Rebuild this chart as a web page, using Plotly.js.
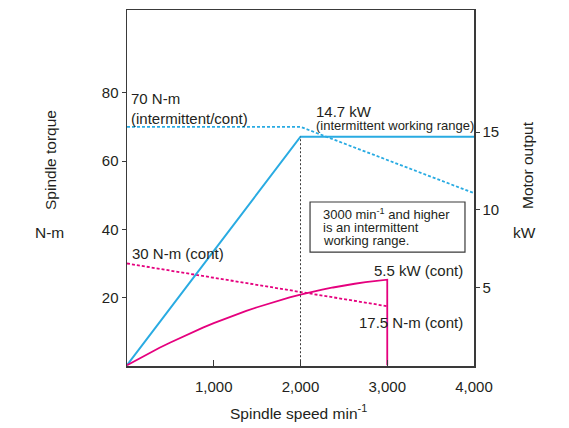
<!DOCTYPE html>
<html>
<head>
<meta charset="utf-8">
<script src="https://cdn.plot.ly/plotly-3.0.1.min.js"></script>
<style>html,body{margin:0;padding:0;background:#fff;}#chart{width:569px;height:428px;}</style>
</head>
<body>
<div id="chart"></div>
<script>
// Speeds (min^-1)
var intSpeed = [0, 2000, 4000];
var intPower = [0, 14.7, 14.7];        // kW, intermittent output
var intTorque = [70, 70, 50.6];        // N-m, intermittent torque
var contTorqueSpeed = [0, 3000];
var contTorque = [30, 17.5];           // N-m, continuous torque
var contPowerSpeed = [0, 125, 250, 375, 500, 625, 750, 875, 1000, 1125, 1250, 1375, 1500, 1625, 1750, 1875,
                      2000, 2125, 2250, 2375, 2500, 2625, 2750, 2875, 3000, 3000];
var contPower = [0, 0.39, 0.76, 1.12, 1.46, 1.79, 2.11, 2.42, 2.71, 2.98, 3.25, 3.50, 3.73, 3.95, 4.16, 4.36,
                 4.54, 4.71, 4.86, 5.00, 5.13, 5.24, 5.34, 5.43, 5.5, 0]; // kW, continuous output
var baseSpeed = [2000, 2000];
var baseLine = [0, 14.7];
var xTickVals = [1000, 2000, 3000, 4000];
var xTickText = ["1,000", "2,000", "3,000", "4,000"];
var yTickVals = [20, 40, 60, 80];
var y2TickVals = [5, 10, 15];

var BLUE = "#29abe2", MAG = "#e5007e", TXT = "#231f20", AX = "#3a3a3a";
var FONT = "Liberation Sans, Arial, sans-serif";

var traces = [
  {x: intSpeed, y: intPower, yaxis: "y2", mode: "lines", line: {color: BLUE, width: 2}},
  {x: intSpeed, y: intTorque, yaxis: "y", mode: "lines", line: {color: BLUE, width: 1.8, dash: "3px,2px"}},
  {x: contTorqueSpeed, y: contTorque, yaxis: "y", mode: "lines", line: {color: MAG, width: 1.8, dash: "3px,2px"}},
  {x: contPowerSpeed, y: contPower, yaxis: "y2", mode: "lines", line: {color: MAG, width: 1.8}},
  {x: baseSpeed, y: baseLine, yaxis: "y2", mode: "lines", line: {color: AX, width: 1, dash: "2px,2px"}}
];

function ann(text, x, y, xa, size, extra) {
  var a = {text: text, x: x, y: y, xref: "x", yref: "y", xanchor: xa, yanchor: "middle",
           showarrow: false, font: {family: FONT, size: size, color: TXT}, align: xa === "right" ? "right" : "left"};
  if (extra) for (var k in extra) a[k] = extra[k];
  return a;
}
function pann(text, px, py, size, rot) {
  return {text: text, x: (px - 127) / 347, y: (366 - py) / 356, xref: "paper", yref: "paper",
          xanchor: "center", yanchor: "middle", showarrow: false, textangle: rot || 0,
          font: {family: FONT, size: size, color: TXT}};
}

var layout = {
  width: 569, height: 428,
  margin: {l: 127, r: 95, t: 10, b: 62, pad: 0},
  paper_bgcolor: "#fff", plot_bgcolor: "#fff",
  showlegend: false,
  font: {family: FONT, color: TXT, size: 15},
  xaxis: {range: [0, 4000], showgrid: false, zeroline: false, showline: true, mirror: true,
          linecolor: AX, linewidth: 1.5, ticks: "inside", ticklen: 6, tickcolor: AX, tickwidth: 1,
          tickvals: xTickVals, ticktext: xTickText, ticklabelstandoff: 6,
          tickfont: {family: FONT, size: 15, color: TXT}},
  yaxis: {range: [0, 104.2], showgrid: false, zeroline: false, showline: true,
          linecolor: AX, linewidth: 1.5, ticks: "outside", ticklen: 4, tickcolor: AX, tickwidth: 1,
          tickvals: yTickVals, tickfont: {family: FONT, size: 15, color: TXT}},
  yaxis2: {range: [-0.05, 22.85], overlaying: "y", side: "right", showgrid: false, zeroline: false,
           showline: true, linecolor: AX, linewidth: 1.5, ticks: "outside", ticklen: 4, tickcolor: AX,
           tickwidth: 1, tickvals: y2TickVals, tickfont: {family: FONT, size: 15, color: TXT}},
  shapes: [
    {type: "rect", xref: "x", yref: "y", x0: 2110, x1: 3896, y0: 33.35, y1: 48.0,
     line: {color: AX, width: 1.2}, fillcolor: "rgba(0,0,0,0)"}
  ],
  annotations: [
    ann("70 N-m<br>(intermittent/cont)", 20, 75.5, "left", 15),
    ann("14.7 kW", 2150, 74.4, "left", 15),
    ann("(intermittent working range)", 2150, 70.3, "left", 13),
    ann("3000 min<sup>-1</sup> and higher", 2240, 44.5, "left", 13),
    ann("is an intermittent", 2240, 40.5, "left", 13),
    ann("working range.", 2240, 36.6, "left", 13),
    ann("5.5 kW (cont)", 3900, 27.9, "right", 15),
    ann("17.5 N-m (cont)", 3900, 12.7, "right", 15),
    ann("30 N-m (cont)", 30, 33.0, "left", 15),
    pann("Spindle torque", 50, 160, 15.5, -90),
    pann("N-m", 49, 233, 15.5),
    pann("Motor output", 527, 165, 15.5, -90),
    pann("kW", 524, 233, 15.5),
    pann("Spindle speed min<sup>-1</sup>", 298, 412, 15.5)
  ]
};

Plotly.newPlot("chart", traces, layout, {staticPlot: true, displayModeBar: false});
</script>
</body>
</html>
